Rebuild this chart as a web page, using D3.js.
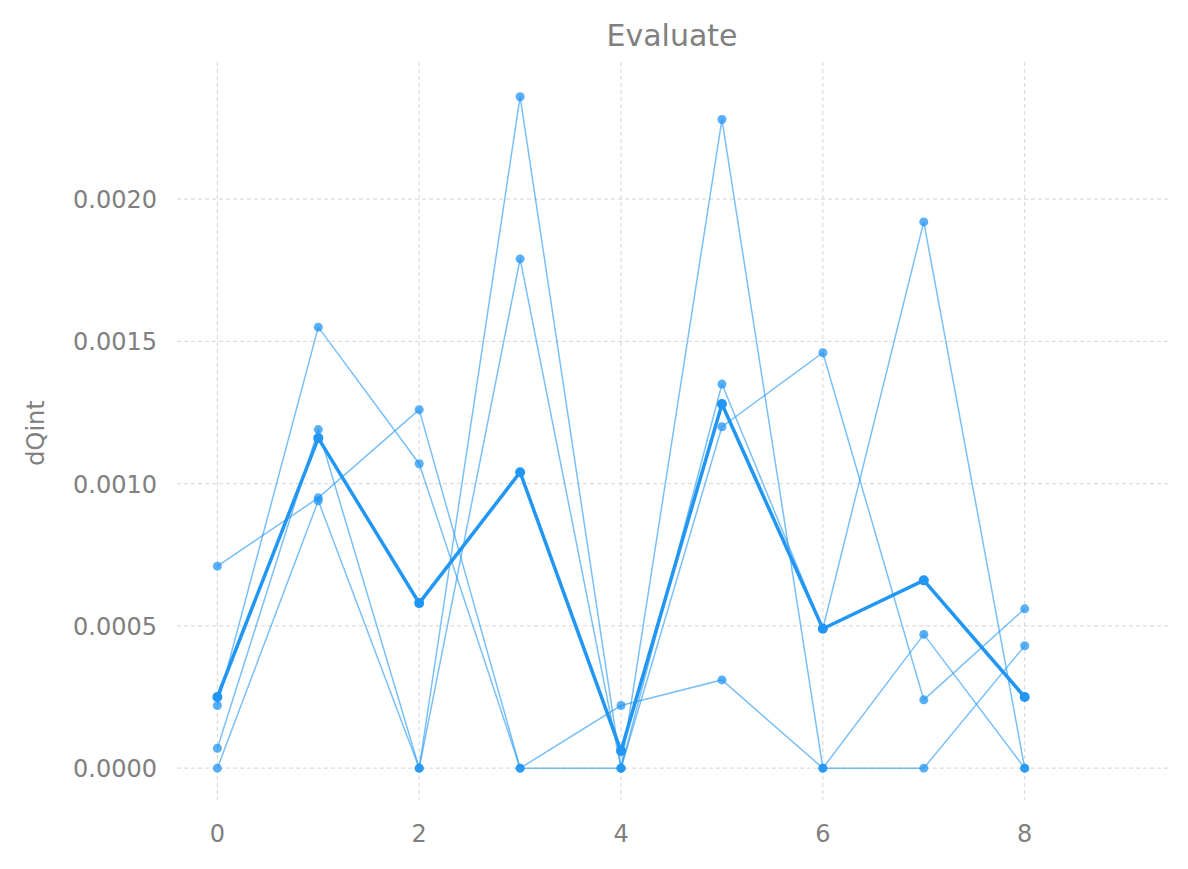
<!DOCTYPE html>
<html><head><meta charset="utf-8">
<script src="https://cdn.jsdelivr.net/npm/d3@7"></script>
<style>body{margin:0;background:#fff}</style></head>
<body><div id="chart"></div>
<script>
// Ölçülen değerler
const steps = [0, 1, 2, 3, 4, 5, 6, 7, 8];
const runA = [0.00071, 0.00095, 0.00126, 0, 0.00022, 0.00031, 0, 0.00047, 0];
const runB = [0.00022, 0.00155, 0.00107, 0, 0, 0.00228, 0, 0, 0.00043];
const runC = [0.00007, 0.00119, 0, 0.00236, 0, 0.00135, 0.00049, 0.00192, 0];
const runD = [0, 0.00094, 0, 0.00179, 0, 0.00120, 0.00146, 0.00024, 0.00056];
const meanRun = [0.00025, 0.00116, 0.00058, 0.00104, 0.00006, 0.00128, 0.00049, 0.00066, 0.00025];
const xTicks = [0, 2, 4, 6, 8];
const yTicks = [0, 0.0005, 0.001, 0.0015, 0.002];

const width = 1188, height = 869;
const m = {left: 177, right: 20, top: 62, bottom: 69};
const blue = '#2196f3', grey = '#808080';

const svg = d3.select('#chart').append('svg')
    .attr('width', width).attr('height', height)
    .style('font-family', 'DejaVu Sans');

const x = d3.scaleLinear().domain([-0.4, 9.42]).range([m.left, width - m.right]);
const y = d3.scaleLinear().domain([-0.000112, 0.002482]).range([height - m.bottom, m.top]);

// Izgara
svg.append('g').selectAll('line').data(xTicks).enter().append('line')
    .attr('x1', d => x(d)).attr('x2', d => x(d))
    .attr('y1', m.top).attr('y2', height - m.bottom)
    .attr('stroke', '#d5d5d5').attr('stroke-dasharray', '4,3');
svg.append('g').selectAll('line').data(yTicks).enter().append('line')
    .attr('x1', m.left).attr('x2', width - m.right)
    .attr('y1', d => y(d)).attr('y2', d => y(d))
    .attr('stroke', '#d5d5d5').attr('stroke-dasharray', '4,3');

// Eksen etiketleri
svg.append('g').selectAll('text').data(xTicks).enter().append('text')
    .attr('x', d => x(d)).attr('y', 842).attr('text-anchor', 'middle')
    .attr('font-size', 24).attr('fill', grey).text(d => d);
svg.append('g').selectAll('text').data(yTicks).enter().append('text')
    .attr('x', 157).attr('y', d => y(d) + 9).attr('text-anchor', 'end')
    .attr('font-size', 24).attr('fill', grey).text(d => d.toFixed(4));

svg.append('text').attr('x', 672).attr('y', 46).attr('text-anchor', 'middle')
    .attr('font-size', 30).attr('fill', grey).text('Evaluate');
svg.append('text').attr('transform', 'translate(44,433) rotate(-90)')
    .attr('text-anchor', 'middle').attr('font-size', 24).attr('fill', grey).text('dQint');

const line = d3.line().x((d, i) => x(steps[i])).y(d => y(d));

function drawRun(vals, w, op, r) {
    svg.append('path').attr('d', line(vals)).attr('fill', 'none')
        .attr('stroke', blue).attr('stroke-width', w).attr('stroke-opacity', op);
    svg.append('g').selectAll('circle').data(vals).enter().append('circle')
        .attr('cx', (d, i) => x(steps[i])).attr('cy', d => y(d)).attr('r', r)
        .attr('fill', blue).attr('fill-opacity', Math.min(1, op + 0.15));
}
[runA, runB, runC, runD].forEach(v => drawRun(v, 1.5, 0.6, 4.5));
drawRun(meanRun, 3.5, 1, 5);
</script></body></html>
